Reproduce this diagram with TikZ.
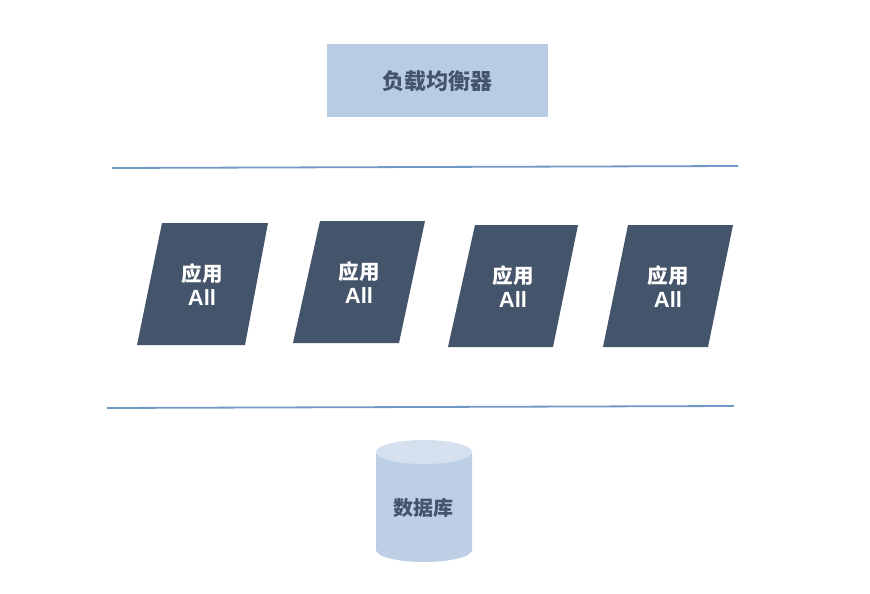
\documentclass[tikz,border=0pt]{standalone}
\usepackage{fontspec}
\setmainfont{Noto Sans CJK SC}
\newfontfamily\cjk{Noto Sans CJK SC}
\newfontfamily\latn{Liberation Sans}
\definecolor{lbfill}{HTML}{B8CCE4}
\definecolor{slate}{HTML}{44546A}
\definecolor{linecol}{HTML}{6F98C4}
\definecolor{dbtop}{HTML}{D4E0EE}
\definecolor{dbbody}{HTML}{BCCFE5}
\tikzset{
  lbtext/.style={font=\cjk\bfseries\fontsize{22}{24}\selectfont, text=slate},
  apptext/.style={font=\cjk\bfseries\fontsize{20.5}{24}\selectfont, text=white, align=center},
  sepline/.style={draw=linecol, line width=1.8pt},
  appbox/.style={fill=slate},
}
\newcommand{\applabel}{应用\\{\latn\bfseries\fontsize{22}{24}\selectfont All}}
\begin{document}
\begin{tikzpicture}[x=1pt,y=-1pt]
\useasboundingbox (0,0) rectangle (870,594);
\fill[white] (0,0) rectangle (870,594);
% load balancer
\fill[lbfill] (327,44) rectangle (548,117);
\node[lbtext] (lb) at (437.5,81) {负载均衡器};
% separator lines
\draw[sepline] (112,168) -- (738,166);
\draw[sepline] (107,408) -- (734,406);
% app boxes
\fill[appbox] (162,223) -- (268,223) -- (245,345) -- (137,345) -- cycle;
\node[apptext] (a1) at (202,285) {\applabel};
\fill[appbox] (320,221) -- (425,221) -- (399,343) -- (293,343) -- cycle;
\node[apptext] (a2) at (359,283) {\applabel};
\fill[appbox] (475,225) -- (578,225) -- (553,347) -- (448,347) -- cycle;
\node[apptext] (a3) at (513,287) {\applabel};
\fill[appbox] (628,225) -- (733,225) -- (708,347) -- (603,347) -- cycle;
\node[apptext] (a4) at (668,287) {\applabel};
% database cylinder
\fill[dbbody] (376,452) -- (376,550) arc[start angle=180, end angle=360, x radius=48, y radius=-12] -- (472,452) -- cycle;
\fill[dbtop] (424,452) ellipse[x radius=48, y radius=12];
\node[lbtext, font=\cjk\bfseries\fontsize{20}{22}\selectfont] (db) at (423,508) {数据库};
\end{tikzpicture}
\end{document}
